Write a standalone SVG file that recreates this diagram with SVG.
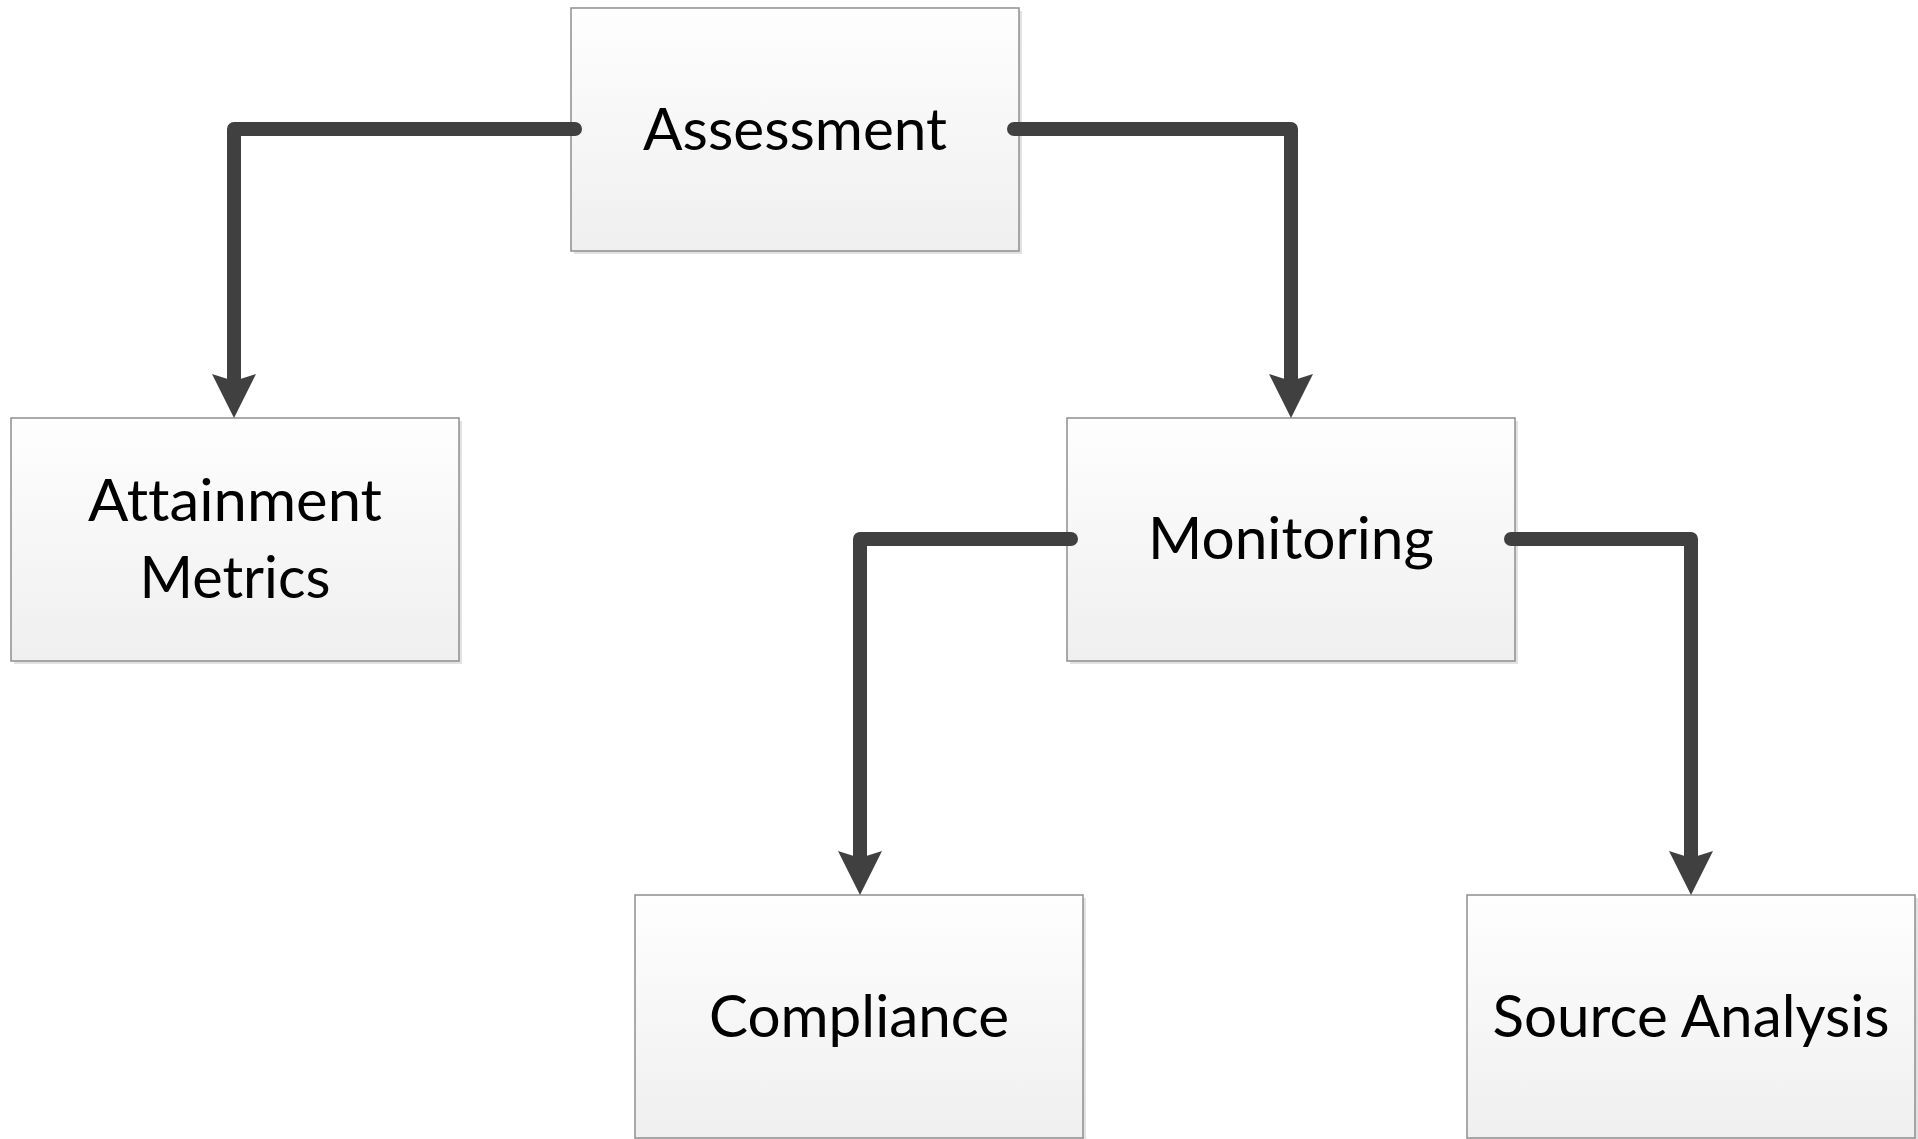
<svg xmlns="http://www.w3.org/2000/svg" xmlns:xlink="http://www.w3.org/1999/xlink" width="1918" height="1139" viewBox="0 0 1918 1139">
  <style>
    .box { fill: url(#boxGrad); stroke: #8f8f8f; stroke-width: 1.5; }
    .shadow { fill: #e2e2e2; }
    .label { font-family: Lato, "Liberation Sans", sans-serif; font-size: 58px; fill: #000; text-anchor: middle; font-variant-ligatures: none; }
    .conn { fill: none; stroke: #404040; stroke-width: 14; stroke-linecap: round; stroke-linejoin: round; }
    .head { fill: #404040; }
  </style>
  <defs>
    <linearGradient id="boxGrad" x1="0" y1="0" x2="0" y2="1">
      <stop offset="0" stop-color="#fefefe"/>
      <stop offset="1" stop-color="#efefef"/>
    </linearGradient>
    <path id="arrowhead" d="M0,0 L-22,-44 L0,-37 L22,-44 Z"/>
  </defs>
  <rect width="1918" height="1139" fill="#ffffff"/>

  <g id="node-assessment">
    <rect class="shadow" x="574" y="11" width="448" height="243"/>
    <rect class="box" x="571" y="8" width="448" height="243"/>
    <text class="label" x="795" y="150" textLength="304" lengthAdjust="spacingAndGlyphs">Assessment</text>
  </g>

  <g id="node-attainment">
    <rect class="shadow" x="14" y="421" width="448" height="243"/>
    <rect class="box" x="11" y="418" width="448" height="243"/>
    <text class="label" x="235" y="521" textLength="294" lengthAdjust="spacingAndGlyphs">Attainment</text>
    <text class="label" x="235" y="598" textLength="191" lengthAdjust="spacingAndGlyphs">Metrics</text>
  </g>

  <g id="node-monitoring">
    <rect class="shadow" x="1070" y="421" width="448" height="243"/>
    <rect class="box" x="1067" y="418" width="448" height="243"/>
    <text class="label" x="1291" y="559" textLength="286" lengthAdjust="spacingAndGlyphs">Monitoring</text>
  </g>

  <g id="node-compliance">
    <rect class="shadow" x="638" y="898" width="448" height="243"/>
    <rect class="box" x="635" y="895" width="448" height="243"/>
    <text class="label" x="859" y="1037" textLength="300" lengthAdjust="spacingAndGlyphs">Compliance</text>
  </g>

  <g id="node-source-analysis">
    <rect class="shadow" x="1470" y="898" width="448" height="243"/>
    <rect class="box" x="1467" y="895" width="448" height="243"/>
    <text class="label" x="1691" y="1037" textLength="397" lengthAdjust="spacingAndGlyphs">Source Analysis</text>
  </g>

  <g id="connectors">
    <polyline class="conn" points="575,129 234,129 234,382"/>
    <use xlink:href="#arrowhead" class="head" x="234" y="418"/>
    <polyline class="conn" points="1014,129 1291,129 1291,382"/>
    <use xlink:href="#arrowhead" class="head" x="1291" y="418"/>
    <polyline class="conn" points="1071,539 860,539 860,859"/>
    <use xlink:href="#arrowhead" class="head" x="860" y="895"/>
    <polyline class="conn" points="1511,539 1691,539 1691,859"/>
    <use xlink:href="#arrowhead" class="head" x="1691" y="895"/>
  </g>
</svg>
